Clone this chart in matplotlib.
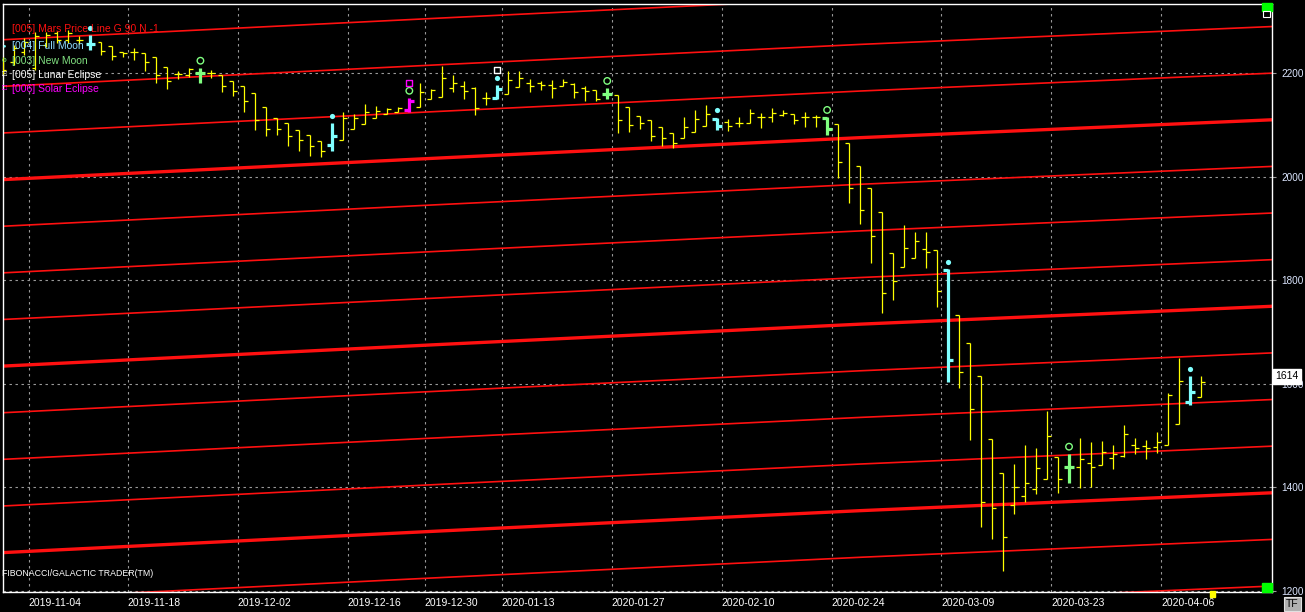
import matplotlib.pyplot as plt
from matplotlib.patches import Rectangle
import numpy as np

plt.rcParams["font.family"] = ["Liberation Sans", "DejaVu Sans"]

# daily OHLC, one entry per bar (2019-10-30 .. 2020-04-09)
opens = [2225, 2221, 2240, 2210, 2254, 2277, 2264, 2264, 2256, 2260,
         2252, 2241, 2240, 2239, 2230, 2212, 2197, 2196, 2199, 2199,
         2196, 2184, 2174, 2161, 2134, 2113, 2103, 2089, 2080, 2068,
         2061, 2070, 2092, 2101, 2113, 2120, 2124, 2129, 2135, 2149,
         2154, 2170, 2175, 2170, 2151, 2151, 2159, 2172, 2181, 2180,
         2177, 2175, 2178, 2170, 2167, 2159, 2158, 2135, 2117, 2109,
         2095, 2084, 2075, 2086, 2098, 2111, 2106, 2103, 2103, 2114,
         2114, 2119, 2120, 2114, 2115, 2113, 2101, 2064, 2020, 1977,
         1931, 1852, 1825, 1842, 1860, 1858, 1820, 1732, 1678, 1615,
         1493, 1427, 1366, 1383, 1396, 1416, 1458, 1440, 1439, 1447,
         1443, 1456, 1461, 1481, 1479, 1477, 1481, 1522, 1565, 1574]
highs = [2231, 2254, 2268, 2279, 2279, 2281, 2283, 2271, 2273, 2260,
         2252, 2241, 2248, 2239, 2230, 2212, 2203, 2209, 2209, 2206,
         2196, 2184, 2174, 2161, 2134, 2113, 2103, 2089, 2080, 2068,
         2103, 2124, 2120, 2140, 2136, 2132, 2134, 2151, 2180, 2169,
         2213, 2195, 2185, 2172, 2163, 2176, 2203, 2203, 2188, 2185,
         2187, 2188, 2180, 2174, 2167, 2170, 2158, 2135, 2117, 2109,
         2095, 2084, 2114, 2129, 2138, 2113, 2111, 2114, 2131, 2122,
         2132, 2129, 2120, 2124, 2119, 2114, 2101, 2064, 2020, 1977,
         1931, 1852, 1907, 1893, 1893, 1858, 1821, 1732, 1678, 1615,
         1493, 1427, 1446, 1482, 1475, 1548, 1458, 1464, 1495, 1487,
         1490, 1482, 1520, 1495, 1492, 1506, 1582, 1649, 1614, 1614]
lows = [2198, 2215, 2235, 2206, 2250, 2258, 2258, 2256, 2244, 2235,
        2225, 2230, 2225, 2203, 2180, 2168, 2188, 2193, 2180, 2190,
        2164, 2156, 2124, 2090, 2079, 2080, 2058, 2050, 2040, 2037,
        2050, 2070, 2092, 2101, 2113, 2120, 2124, 2125, 2135, 2149,
        2154, 2164, 2149, 2119, 2138, 2150, 2159, 2172, 2164, 2167,
        2152, 2174, 2152, 2146, 2145, 2150, 2084, 2086, 2092, 2068,
        2058, 2055, 2075, 2086, 2098, 2090, 2087, 2096, 2103, 2094,
        2106, 2116, 2101, 2096, 2096, 2080, 1997, 1948, 1908, 1834,
        1736, 1762, 1825, 1842, 1823, 1749, 1604, 1591, 1492, 1323,
        1300, 1239, 1348, 1372, 1387, 1416, 1390, 1409, 1398, 1401,
        1443, 1435, 1459, 1464, 1454, 1467, 1481, 1522, 1559, 1574]
closes = [2206, 2248, 2260, 2271, 2273, 2264, 2277, 2264, 2256, 2243,
          2233, 2238, 2240, 2221, 2196, 2184, 2197, 2208, 2199, 2199,
          2174, 2166, 2145, 2109, 2092, 2092, 2078, 2070, 2059, 2050,
          2078, 2113, 2113, 2124, 2127, 2131, 2132, 2146, 2163, 2167,
          2190, 2180, 2165, 2132, 2151, 2169, 2187, 2191, 2175, 2177,
          2170, 2183, 2164, 2165, 2150, 2159, 2109, 2100, 2103, 2078,
          2074, 2064, 2095, 2111, 2121, 2098, 2098, 2103, 2122, 2114,
          2122, 2122, 2109, 2114, 2115, 2092, 2028, 1977, 1936, 1885,
          1775, 1798, 1862, 1876, 1855, 1779, 1646, 1623, 1551, 1371,
          1360, 1304, 1400, 1408, 1437, 1499, 1416, 1440, 1454, 1439,
          1469, 1464, 1503, 1475, 1475, 1487, 1578, 1606, 1584, 1603]

# bars on which the events fall
full_moon_idx = [8, 30, 45, 65, 86, 108]
new_moon_idx = [18, 37, 55, 75, 97]
lunar_eclipse_idx = [45]
solar_eclipse_idx = [37]

date_labels = ["2019-11-04", "2019-11-18", "2019-12-02", "2019-12-16",
               "2019-12-30", "2020-01-13", "2020-01-27", "2020-02-10",
               "2020-02-24", "2020-03-09", "2020-03-23", "2020-04-06"]
date_idx = [3, 12, 22, 32, 39, 46, 56, 66, 76, 86, 96, 106]

# Mars price line (base harmonic), read at a few bars
mars_idx = [0, 40, 78, 116]
mars_val = [1994, 2036, 2075, 2110]
mars_step = 90
last_price = 1614

YELLOW = "#FFFF00"
CYAN = "#80FFFF"
GREEN = "#80FF80"
MAGENTA = "#FF00FF"
RED = "#FF1010"

W, H = 1305, 612
fig = plt.figure(figsize=(W / 100, H / 100), dpi=100, facecolor="black")
ax = fig.add_axes([3 / W, 20 / H, 1269 / W, 588 / H])
ax.set_facecolor("black")


def fig_xy(x, y):
    return x / W, 1 - y / H


# Mars harmonic lines
mx = np.array(mars_idx, dtype=float)
my = np.array(mars_val, dtype=float)
for k in range(-10, 4):
    lw = 2.4 if k % 4 == 0 else 1.2
    ax.plot(mx, my + k * mars_step, color=RED, lw=lw, zorder=2,
            solid_capstyle="butt")

# bars
n = len(opens)
idx = np.arange(n)
colors = [YELLOW] * n
widths = [0.9] * n
for i in new_moon_idx:
    colors[i] = GREEN
    widths[i] = 2.3
for i in full_moon_idx:
    colors[i] = CYAN
    widths[i] = 2.3
for i in solar_eclipse_idx:
    colors[i] = MAGENTA
    widths[i] = 2.3
tick = np.where(np.array(widths) > 1, 0.45, 0.36)

ax.vlines(idx, lows, highs, colors=colors, linewidths=widths, zorder=4)
ax.hlines(opens, idx - tick, idx, colors=colors, linewidths=widths, zorder=4)
ax.hlines(closes, idx, idx + tick, colors=colors, linewidths=widths, zorder=4)

# event markers above the bars
hi = np.array(highs, dtype=float)
ax.scatter(full_moon_idx, hi[full_moon_idx] + 14.5, s=14, color=CYAN,
           marker="o", zorder=5, linewidths=0)
ax.scatter(new_moon_idx, hi[new_moon_idx] + 14.5, s=22, facecolors="none",
           edgecolors=GREEN, marker="o", linewidths=1.0, zorder=5)
ax.scatter(lunar_eclipse_idx, hi[lunar_eclipse_idx] + 30, s=20,
           facecolors="none", edgecolors="white", marker="s",
           linewidths=1.0, zorder=5)
ax.scatter(solar_eclipse_idx, hi[solar_eclipse_idx] + 30, s=20,
           facecolors="none", edgecolors=MAGENTA, marker="s",
           linewidths=1.0, zorder=5)

ax.set_xlim(0.045, 115.46)
ax.set_ylim(1198, 2333)

# grid
ax.set_xticks(np.array(date_idx) - 0.6)
ax.set_xticklabels(date_labels, ha="left")
ax.set_yticks([1200, 1400, 1600, 1800, 2000, 2200])
ax.grid(True, color="#9A9A9A", linestyle=(0, (2.2, 3.2)), lw=0.8, zorder=1)
ax.set_axisbelow(True)

ax.yaxis.tick_right()
ax.tick_params(axis="x", length=0, pad=4, labelsize=7.5, labelcolor="white")
ax.tick_params(axis="y", length=3, pad=4, labelsize=7.2, color="#9A9A9A",
               labelcolor="#DCE6FF")
for sp in ax.spines.values():
    sp.set_color("white")
    sp.set_linewidth(1.0)

# last price tag
ax.text(1.0025, last_price, f"{last_price}", transform=ax.get_yaxis_transform(),
        ha="left", va="center", fontsize=7.5, color="black", zorder=10,
        clip_on=False,
        bbox=dict(boxstyle="square,pad=0.25", facecolor="white",
                  edgecolor="white"))

# legend
legend_rows = [("[005] Mars Price Line G 90 N -1", RED, 29),
               ("[004] Full Moon", "#8FDCFF", 46),
               ("[003] New Moon", "#80E080", 61),
               ("[005] Lunar Eclipse", "white", 75),
               ("[006] Solar Eclipse", MAGENTA, 89)]
for label, col, y in legend_rows:
    fig.text(*fig_xy(12, y), label, color=col, fontsize=7.5, va="center",
             ha="left", zorder=20)
fig.text(*fig_xy(4, 46), "\u25CF", color=CYAN, fontsize=4, va="center",
         ha="center", zorder=20)
fig.text(*fig_xy(4, 61), "o", color=GREEN, fontsize=6, va="center",
         ha="center", zorder=20)
fig.text(*fig_xy(4, 75), "\u25A1", color="white", fontsize=6, va="center",
         ha="center", zorder=20)
fig.text(*fig_xy(4, 89), "\u25A1", color=MAGENTA, fontsize=6, va="center",
         ha="center", zorder=20)

fig.text(*fig_xy(2, 574), "FIBONACCI/GALACTIC TRADER(TM)", color="white",
         fontsize=6.3, va="center", ha="left")

# small window widgets
fig.patches.append(Rectangle(fig_xy(1262, 11), 10 / W, 8 / H,
                             transform=fig.transFigure, color="#00FF00"))
fig.patches.append(Rectangle(fig_xy(1263, 17), 7 / W, 6 / H,
                             transform=fig.transFigure, facecolor="black",
                             edgecolor="white", lw=0.8))
fig.patches.append(Rectangle(fig_xy(1262, 592), 10 / W, 9 / H,
                             transform=fig.transFigure, color="#00FF00"))
fig.patches.append(Rectangle(fig_xy(1210, 597), 5 / W, 6 / H,
                             transform=fig.transFigure, color=YELLOW))
fig.patches.append(Rectangle(fig_xy(1284, 611), 17 / W, 14 / H,
                             transform=fig.transFigure, facecolor="#B0B0B0",
                             edgecolor="#E0E0E0", lw=0.8))
fig.text(*fig_xy(1292.5, 604), "TF", color="black", fontsize=7.5,
         ha="center", va="center")

fig.savefig("out.png", dpi=100, facecolor="black")
